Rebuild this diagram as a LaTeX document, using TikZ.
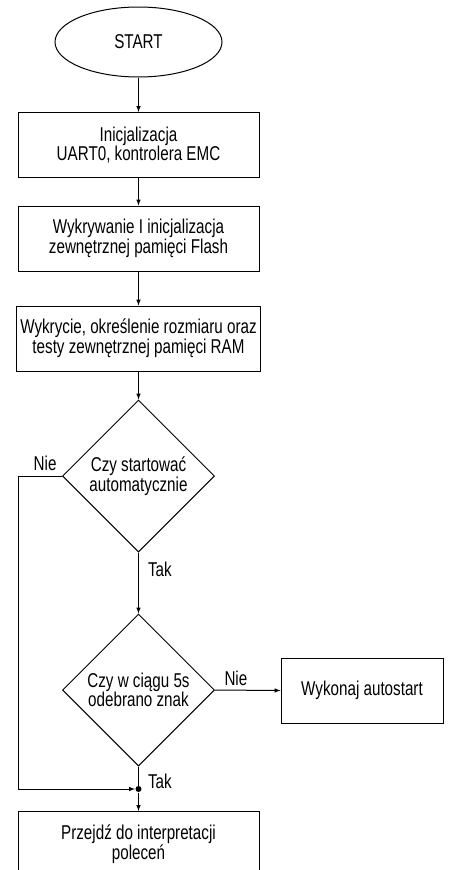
\documentclass[tikz,border=0pt]{standalone}
\usepackage{fontspec}
\setmainfont[FakeStretch=0.76]{Liberation Sans}
\usetikzlibrary{arrows,shapes}
\tikzset{
	every node/.style={
		font=\fontsize{20}{17}\selectfont
	},
	proces/.style={
		shape=rectangle,
		minimum width=241pt,
		minimum height=65pt,
		align=center,
		draw,
	},
	decyzja/.style={
		shape=diamond,
		minimum width=152pt,
		minimum height=152pt,
		inner sep=0pt,
		align=center,
		draw,
	},
	terminal/.style={
		shape=ellipse,
		minimum width=167pt,
		minimum height=70pt,
		draw,
	},
	punkt/.style={circle,fill=black,inner sep=0pt,minimum size=6pt},
	opis/.style={inner sep=0pt},
}

\begin{document}
\begin{tikzpicture}
	[->,>=latex,line width=1pt,x=1pt,y=-1pt]
	\useasboundingbox (0,0) rectangle (449,870);

	\node[terminal] (start) at (138.5,42) {START};
	\node[proces] (init) at (138.5,145) {Inicjalizacja\\UART0, kontrolera EMC};
	\node[proces] (flash) at (138.5,238.5) {Wykrywanie I inicjalizacja\\zewnętrznej pamięci Flash};
	\node[proces] (ram) at (138.5,338.5) {Wykrycie, określenie rozmiaru oraz\\testy zewnętrznej pamięci RAM};
	\node[decyzja] (autoq) at (138.5,476) {Czy startować\\automatycznie};
	\node[decyzja] (znakq) at (138.5,690) {Czy w ciągu 5s\\odebrano znak};
	\node[proces, minimum width=162pt] (autostart) at (362,690.5) {Wykonaj autostart};
	\node[punkt] (join) at (138.5,789) {};
	\node[proces] (cmd) at (138.5,844) {Przejdź do interpretacji\\poleceń};
	\coordinate (lewo) at (18,476);

	\foreach \a/\b in {start/init,init/flash,flash/ram,ram/autoq}
	\draw (\a) -- (\b);

	\draw (autoq.south) -- (znakq.north)
		node[opis,pos=0,anchor=north west,xshift=9pt,yshift=-9pt] {Tak};
	\draw (znakq.east) -- (autostart.west)
		node[opis,pos=0,anchor=south west,xshift=9pt,yshift=4pt] {Nie};
	\draw[-] (autoq.west) -- (lewo)
		node[opis,pos=0,anchor=south east,xshift=-5pt,yshift=5pt] {Nie};
	\draw (lewo) |- (join);
	\draw[-] (znakq.south) -- (join)
		node[opis,pos=0,anchor=north west,xshift=9pt,yshift=-7pt] {Tak};
	\draw (join) -- (cmd);
\end{tikzpicture}
\end{document}
